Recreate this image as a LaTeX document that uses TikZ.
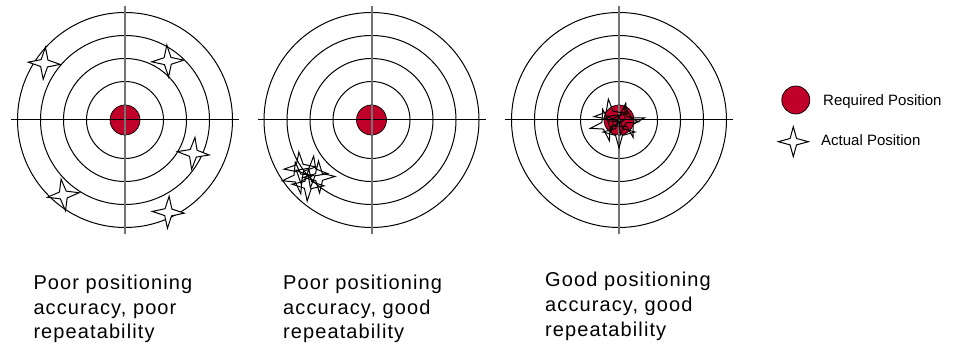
\documentclass[tikz,border=0pt]{standalone}
\usepackage{fontspec}
\setmainfont{Liberation Sans}
\newfontfamily\capfont[LetterSpace=5.5]{Liberation Sans}
\usetikzlibrary{shapes.geometric}

\definecolor{reqred}{RGB}{192,0,40}

\tikzset{
    ring/.style={line width=1pt},
    hline/.style={line width=1pt},
    vline/.style={line width=2pt,black!55},
    reqdot/.style={circle,inner sep=0pt,minimum size=30pt,fill=reqred,draw=black,line width=0.7pt},
    hit/.style={star,star points=4,star point ratio=3.3,inner sep=0pt,minimum size=32pt,draw=black,line width=1pt},
    caption/.style={anchor=base west,inner sep=0pt,align=left,font=\capfont\fontsize{20}{24.8}\selectfont},
    legendtext/.style={anchor=base west,inner sep=0pt,font=\fontsize{15}{18}\selectfont}
}

\begin{document}
\begin{tikzpicture}[x=1pt,y=-1pt]
    \useasboundingbox (0,0) rectangle (960,344);

    \coordinate (t1) at (125,120);
    \coordinate (t2) at (371.5,120);
    \coordinate (t3) at (619,120);

    % targets
    \foreach \t in {t1,t2,t3} {
        \foreach \r in {38.5,61.5,84.5,107.5}
            \draw [ring] (\t) circle [radius=\r];
        \draw [hline] ([xshift=-114pt]\t) -- ([xshift=114pt]\t);
        \draw [vline] ([yshift=114pt]\t) -- ([yshift=-114pt]\t);
        \node [reqdot] (\t-req) at (\t) {};
        \draw [hline] ([xshift=-15pt]\t) -- ([xshift=15pt]\t);
        \draw [vline] ([yshift=15pt]\t) -- ([yshift=-15pt]\t);
    }

    % poor accuracy, poor repeatability
    \node [hit,fill=white,rotate=-4] (a1) at (44.3,63.3) {};
    \node [hit,fill=white,rotate=3] (a2) at (167.7,61) {};
    \node [hit,fill=white,rotate=-6] (a3) at (193.3,153.3) {};
    \node [hit,fill=white,rotate=8] (a4) at (63.3,195) {};
    \node [hit,fill=white,rotate=-3] (a5) at (168.3,212.3) {};

    % poor accuracy, good repeatability
    \node [hit,rotate=4] (b1) at (300,168) {};
    \node [hit,rotate=-6] (b2) at (312,172) {};
    \node [hit,rotate=2] (b3) at (319,177) {};
    \node [hit,rotate=10] (b4) at (298,178) {};
    \node [hit,rotate=-3] (b5) at (308,185) {};

    % good accuracy, good repeatability
    \node [hit,rotate=6] (c1) at (610,115) {};
    \node [hit,rotate=-10] (c2) at (623,119) {};
    \node [hit,rotate=12] (c3) at (606,125) {};
    \node [hit,rotate=0] (c4) at (619,132) {};
    \node [hit,rotate=15] (c5) at (629,122) {};

    % legend
    \node [reqdot,minimum size=28pt] (key-req) at (795.8,100) {};
    \node [legendtext] (key-req-text) at (823,106) {Required Position};
    \node [hit,fill=white,minimum size=30pt] (key-hit) at (793.3,141.7) {};
    \node [legendtext] (key-hit-text) at (821,146) {Actual Position};

    % captions
    \node [caption] (cap1) at (33.3,338.9) {Poor positioning\\accuracy, poor\\repeatability};
    \node [caption] (cap2) at (283,338.9) {Poor positioning\\accuracy, good\\repeatability};
    \node [caption] (cap3) at (545,336.3) {Good positioning\\accuracy, good\\repeatability};
\end{tikzpicture}
\end{document}
